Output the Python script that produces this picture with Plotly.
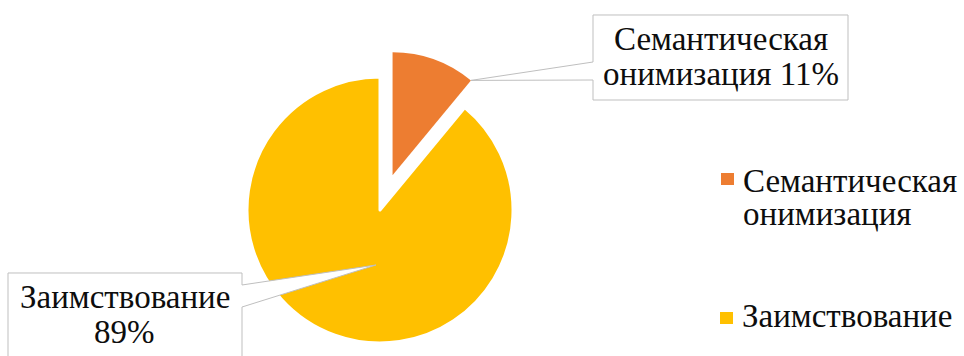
import math
import plotly.graph_objects as go

# --- data -------------------------------------------------------------
LABELS = ["Семантическая онимизация", "Заимствование"]
VALUES = [11, 89]
COLORS = ["#ED7D31", "#FFC000"]
# how each label is broken into lines in the callouts / legend
LABEL_LINES = [["Семантическая", "онимизация"], ["Заимствование"]]

# --- canvas / geometry (pixels) ----------------------------------------
W, H = 964, 356
CX, CY, R = 380, 210, 133        # main pie body
PULL = 37                         # explosion distance of the first slice
R_EXP = 123                       # radius of the exploded slice
FONT = dict(family="Liberation Serif", size=33, color="#0d0d0d")
BORDER = "#bfbfbf"
CLEAR = "rgba(0,0,0,0)"


def px(x):
    return x / W


def py(y):
    return 1 - y / H


total = sum(VALUES)
pcts = [round(100 * v / total) for v in VALUES]
end_deg = 360 * VALUES[0] / total
mid_rad = math.radians(end_deg / 2)
end_rad = math.radians(end_deg)

# centre of the exploded slice
ox = CX + PULL * math.sin(mid_rad)
oy = CY - PULL * math.cos(mid_rad)

common = dict(labels=LABELS, values=VALUES, sort=False, direction="clockwise",
              rotation=0, textinfo="none", hoverinfo="label+percent",
              showlegend=False)

fig = go.Figure()
# body of the pie (first slice left empty)
fig.add_trace(go.Pie(
    **common,
    marker=dict(colors=[CLEAR, COLORS[1]], line=dict(color="white", width=3)),
    domain=dict(x=[px(CX - R), px(CX + R)], y=[py(CY + R), py(CY - R)]),
))
# exploded first slice
fig.add_trace(go.Pie(
    **common,
    marker=dict(colors=[COLORS[0], CLEAR], line=dict(width=0)),
    domain=dict(x=[px(ox - R_EXP), px(ox + R_EXP)], y=[py(oy + R_EXP), py(oy - R_EXP)]),
))


def path(points):
    return "M " + " L ".join(f"{px(x):.5f},{py(y):.5f}" for x, y in points) + " Z"


# callout for the exploded slice: box plus pointer to the slice corner
tip1 = (ox + R_EXP * math.sin(end_rad), oy - R_EXP * math.cos(end_rad))
box1 = (593, 15, 848, 100)
callout1 = [(box1[0], box1[1]), (box1[2], box1[1]), (box1[2], box1[3]),
            (box1[0], box1[3]), (box1[0], 80), tip1, (box1[0], 62)]

# callout for the large slice
tip2 = (CX - 4, CY + 55)
box2 = (8, 273, 242, 362)
callout2 = [(box2[0], box2[1]), (box2[2], box2[1]), (box2[2], 285), tip2,
            (box2[2], 307), (box2[2], box2[3]), (box2[0], box2[3])]

shapes = []
for pts in (callout1, callout2):
    shapes.append(dict(type="path", path=path(pts), xref="paper", yref="paper",
                       fillcolor="white", line=dict(color=BORDER, width=1), layer="above"))

# legend swatches
swatches = [(727.5, 179), (726.5, 318)]
for (sx, sy), col in zip(swatches, COLORS):
    shapes.append(dict(type="rect", xref="paper", yref="paper",
                       x0=px(sx - 6.5), x1=px(sx + 6.5), y0=py(sy + 6), y1=py(sy - 6),
                       fillcolor=col, line=dict(width=0), layer="above"))

annotations = []


def add_text(text, x, baseline, anchor):
    annotations.append(dict(text=text, x=px(x), y=py(baseline - 11), xref="paper", yref="paper",
                            xanchor=anchor, yanchor="middle", showarrow=False,
                            font=FONT, borderpad=0))


# callout texts
add_text(LABEL_LINES[0][0], 720.5, 50, "center")
add_text(f"{LABEL_LINES[0][1]} {pcts[0]}%", 720.5, 85, "center")
add_text(LABEL_LINES[1][0], 124.5, 308, "center")
add_text(f"{pcts[1]}%", 124.5, 343, "center")

# legend texts
add_text(LABEL_LINES[0][0], 742, 192, "left")
add_text(LABEL_LINES[0][1], 742, 225, "left")
add_text(LABEL_LINES[1][0], 741, 327, "left")

fig.update_layout(
    width=W, height=H,
    margin=dict(l=0, r=0, t=0, b=0),
    paper_bgcolor="white", plot_bgcolor="white",
    shapes=shapes, annotations=annotations,
    showlegend=False,
)

fig.write_html("out.html")
